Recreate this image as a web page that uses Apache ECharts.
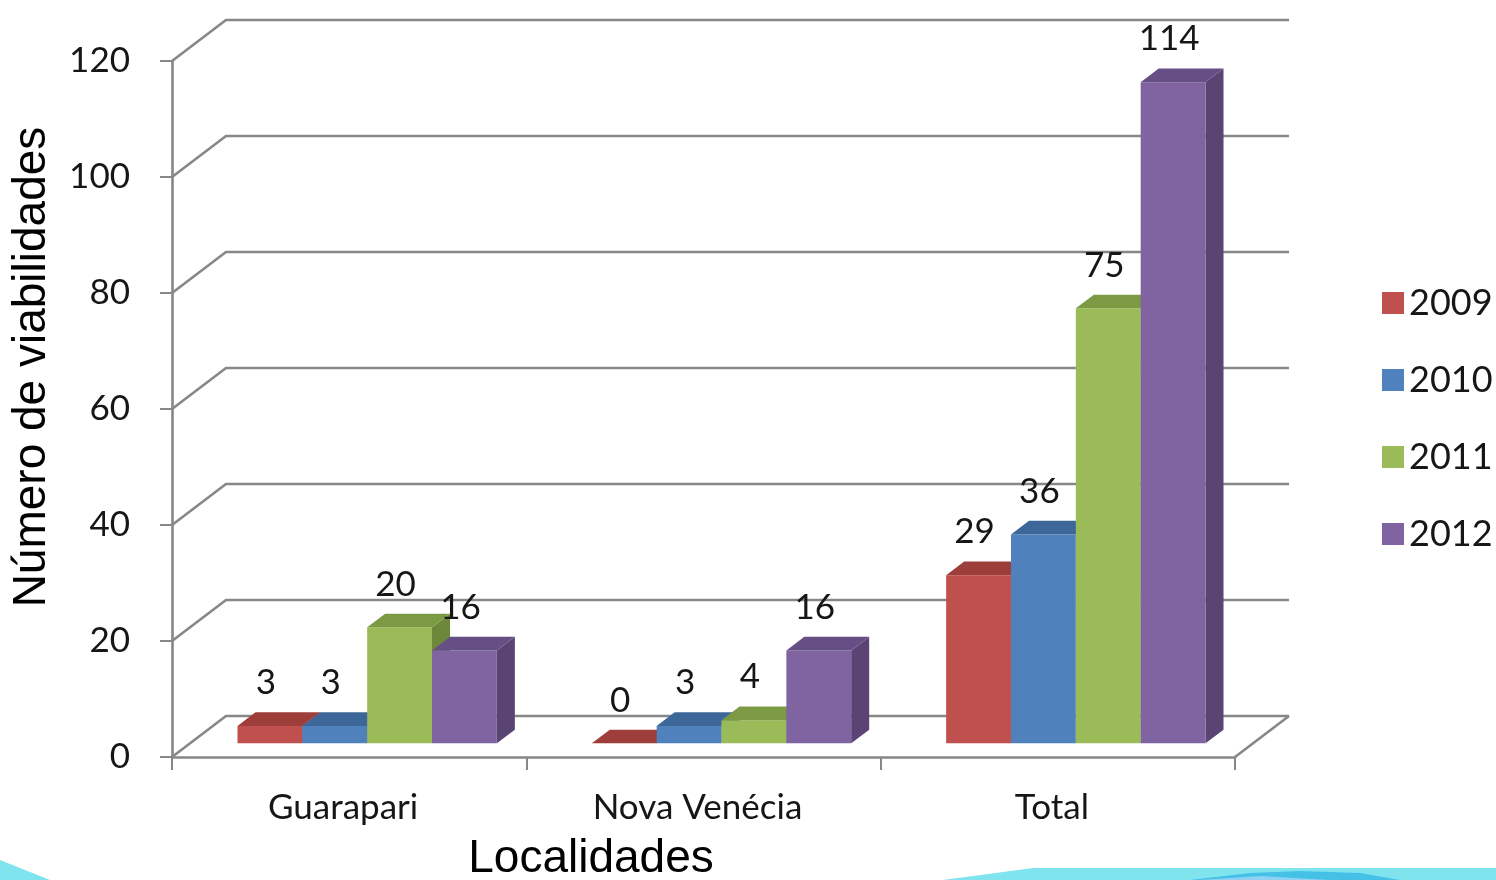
<!DOCTYPE html>
<html><head><meta charset="utf-8">
<script src="https://cdn.jsdelivr.net/npm/echarts@6/dist/echarts.min.js"></script>
<style>html,body{margin:0;padding:0;background:#fff;}#c{width:1496px;height:880px;}</style>
</head><body><div id="c"></div>
<script>
const categories = ['Guarapari', 'Nova Venécia', 'Total'];
const years = ['2009', '2010', '2011', '2012'];
const v2009 = [3, 0, 29];
const v2010 = [3, 3, 36];
const v2011 = [20, 4, 75];
const v2012 = [16, 16, 114];
const yTicks = [0, 20, 40, 60, 80, 100, 120];

const seriesValues = [v2009, v2010, v2011, v2012];
const frontColors = ['#c0504d', '#4f81bd', '#9bbb59', '#8064a2'];
const topColors = ['#9e3e3b', '#3d6798', '#7c9a44', '#664f85'];
const sideColors = ['#8b3532', '#365a87', '#6d883b', '#594474'];
const DEPTH = [54, -41];
const LINE = '#878787';
const TXT = '#161616';

function renderGrid(params, api) {
  const v = api.value(1);
  const cs = params.coordSys;
  const y = api.coord([0, v])[1];
  const xl = cs.x, xr = cs.x + cs.width;
  const children = [{
    type: 'polyline',
    shape: { points: [[xl, y], [xl + DEPTH[0], y + DEPTH[1]], [xr + DEPTH[0], y + DEPTH[1]]] },
    style: { stroke: LINE, lineWidth: 2.6, fill: null }
  }];
  if (v === 0) {
    children.push({ type: 'line', shape: { x1: xr, y1: y, x2: xr + DEPTH[0], y2: y + DEPTH[1] },
      style: { stroke: LINE, lineWidth: 2.6 } });
  }
  return { type: 'group', children: children };
}

function makeBarRender(i) {
  return function (params, api) {
    const cat = api.value(0), val = api.value(1);
    const base = api.coord([cat, 0]);
    const top = api.coord([cat, val]);
    const catW = api.size([1, 0])[0];
    const bw = catW * 0.183;
    const dx = DEPTH[0] / 3, dy = DEPTH[1] / 3;
    const x0 = base[0] - 2 * bw + i * bw + dx;
    const x1 = x0 + bw;
    const yB = base[1] + dy, yT = top[1] + dy;
    return {
      type: 'group',
      children: [
        { type: 'polygon', shape: { points: [[x1, yT], [x1 + dx, yT + dy], [x1 + dx, yB + dy], [x1, yB]] },
          style: { fill: sideColors[i] } },
        { type: 'rect', shape: { x: x0, y: yT, width: bw, height: yB - yT },
          style: { fill: frontColors[i] } },
        { type: 'polygon', shape: { points: [[x0, yT], [x1, yT], [x1 + dx, yT + dy], [x0 + dx, yT + dy]] },
          style: { fill: topColors[i] } },
        { type: 'text', style: { text: String(val), x: x0 + bw / 2 - 4, y: yT - 43,
          align: 'center', verticalAlign: 'middle', font: '35px Lato', fill: TXT } }
      ]
    };
  };
}

const series = [{
  name: 'grid3d', type: 'custom', z: 1, clip: false, silent: true,
  renderItem: renderGrid,
  data: yTicks.map(function (t) { return [0, t]; })
}];
years.forEach(function (y, i) {
  series.push({
    name: y, type: 'custom', z: 2, clip: false,
    itemStyle: { color: frontColors[i] },
    renderItem: makeBarRender(i),
    data: seriesValues[i].map(function (v, c) { return [c, v]; })
  });
});

const chart = echarts.init(document.getElementById('c'));
chart.setOption({
  backgroundColor: '#ffffff',
  animation: false,
  grid: { left: 172, right: 261, top: 61, bottom: 123 },
  legend: {
    data: years, orient: 'vertical', left: 1377, top: 278,
    icon: 'rect', itemWidth: 22, itemHeight: 22, itemGap: 37,
    textStyle: { fontFamily: 'Lato', fontSize: 36, color: TXT, lineHeight: 40 }
  },
  xAxis: {
    type: 'category', data: categories, boundaryGap: true,
    axisLine: { show: true, lineStyle: { color: LINE, width: 2.6 } },
    axisTick: { show: true, length: 13, lineStyle: { color: LINE, width: 2 } },
    axisLabel: { fontFamily: 'Lato', fontSize: 35, color: TXT, margin: 33, padding: [0, 12, 0, 0] },
    splitLine: { show: false }
  },
  yAxis: {
    type: 'value', min: 0, max: 120, interval: 20,
    axisLine: { show: true, lineStyle: { color: LINE, width: 2.6 } },
    axisTick: { show: true, length: 12, lineStyle: { color: LINE, width: 2 } },
    axisLabel: { fontFamily: 'Lato', fontSize: 35, color: TXT, margin: 42 },
    splitLine: { show: false }
  },
  graphic: [
    { type: 'polygon', z: -1, shape: { points: [[0, 860], [50, 880], [0, 880]] }, style: { fill: '#7fe4ee' } },
    { type: 'polygon', z: -1, shape: { points: [[943, 880], [1033, 868], [1496, 868], [1496, 880]] }, style: { fill: '#7fe4ee' } },
    { type: 'polygon', z: -1, shape: { points: [[1190, 880], [1250, 873], [1300, 871], [1360, 873], [1400, 880]] }, style: { fill: '#45c1e8' } },
    { type: 'polygon', z: -1, shape: { points: [[1200, 880], [1260, 876], [1330, 880]] }, style: { fill: '#8fd0f5' } },
    { type: 'text', x: 32, y: 367, rotation: Math.PI / 2,
      style: { text: 'Número de viabilidades', font: '46px "Liberation Sans"', fill: '#000', align: 'center', verticalAlign: 'middle' } },
    { type: 'text', x: 591, y: 859,
      style: { text: 'Localidades', font: '46px "Liberation Sans"', fill: '#000', align: 'center', verticalAlign: 'middle' } }
  ],
  series: series
});
</script>
</body></html>
